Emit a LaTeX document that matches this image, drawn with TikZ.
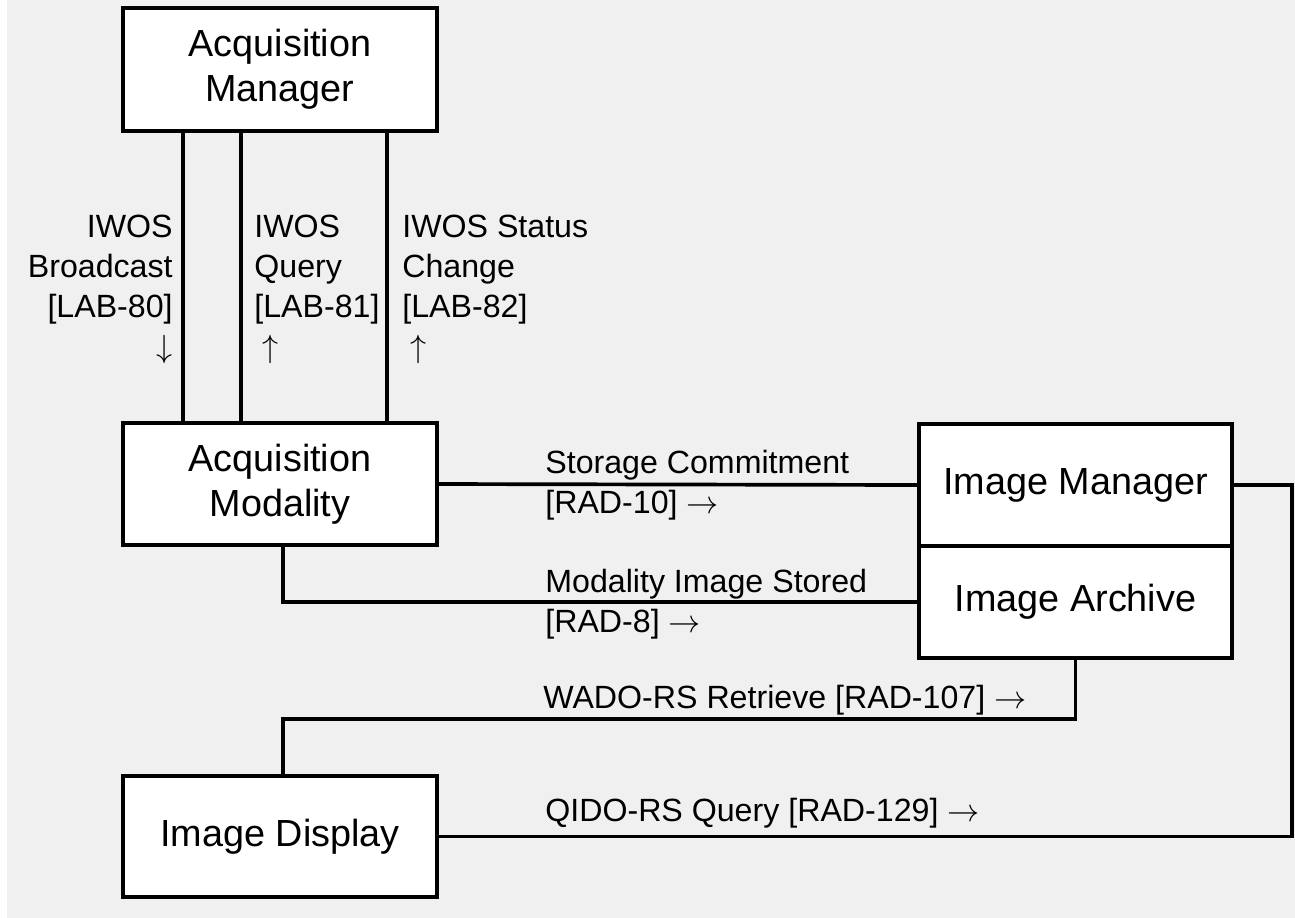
\documentclass[tikz,border=0pt]{standalone}
\usepackage{fix-cm}
\usepackage{fontspec}
\setmainfont{Liberation Sans}
\usetikzlibrary{positioning}
\definecolor{bggray}{RGB}{239,240,239}

\begin{document}
\begin{tikzpicture}[
  x=0.2mm, y=-0.2mm,
  actor/.style={rectangle, draw=black, fill=white, line width=2.1pt,
                minimum width=62.8mm, minimum height=24.4mm,
                align=center, inner sep=0pt,
                font={\fontsize{21.5}{25.6}\selectfont}},
  txn/.style={inner sep=0pt, font={\fontsize{18.3}{22.8}\selectfont}},
  wire/.style={line width=2.1pt, black}
]
% canvas
\useasboundingbox (0,0) rectangle (1295,917);
\fill[white] (-5,-5) rectangle (1300,922);
\fill[bggray] (7,-5) rectangle (1300,922);

% actors
\node[actor, minimum height=24.6mm] (acqmgr) at (280,69.5) {Acquisition\\Manager};
\node[actor] (acqmod) at (280,484) {Acquisition\\Modality};
\node[actor, minimum width=62.6mm] (imgmgr) at (1075.5,485) {Image Manager};
\node[actor, minimum width=62.6mm, minimum height=22.4mm,
      below=-2.1pt of imgmgr] (imgarc) {Image Archive};
\node[actor, minimum height=24.2mm] (imgdisp) at (280,836.5) {Image Display};

% transactions
\draw[wire] ([xshift=12.4mm]acqmgr.south west) -- ([xshift=12.4mm]acqmod.north west);
\draw[wire] ([xshift=24mm]acqmgr.south west)   -- ([xshift=24mm]acqmod.north west);
\draw[wire] ([xshift=53.2mm]acqmgr.south west) -- ([xshift=53.2mm]acqmod.north west);
\draw[wire] (acqmod.east) -- (imgmgr.west);
\draw[wire] ([xshift=0.6mm]acqmod.south) |- (imgarc.west);
\draw[wire] (imgarc.south) -- ++(0,59) -| ([xshift=0.6mm]imgdisp.north);
\draw[wire] (imgmgr.east) -- ++(58,0) |- (imgdisp.east);

% labels
\node[txn, anchor=east, align=right] (lab80) at (173,289)
      {IWOS\\Broadcast\\{[LAB-80]}\\$\downarrow$};
\node[txn, anchor=west, align=left] (lab81) at (254,289)
      {IWOS\\Query\\{[LAB-81]}\\\hspace*{0.25em}$\uparrow$};
\node[txn, anchor=west, align=left] (lab82) at (402,289)
      {IWOS Status\\Change\\{[LAB-82]}\\\hspace*{0.25em}$\uparrow$};
\node[txn, anchor=west, align=left] (rad10) at (545,485)
      {Storage Commitment\\{[RAD-10]} $\rightarrow$};
\node[txn, anchor=west, align=left] (rad8) at (545,604)
      {Modality Image Stored\\{[RAD-8]} $\rightarrow$};
\node[txn, anchor=west] (rad107) at (543,700) {WADO-RS Retrieve [RAD-107] $\rightarrow$};
\node[txn, anchor=west] (rad129) at (545,813) {QIDO-RS Query [RAD-129] $\rightarrow$};
\end{tikzpicture}
\end{document}
